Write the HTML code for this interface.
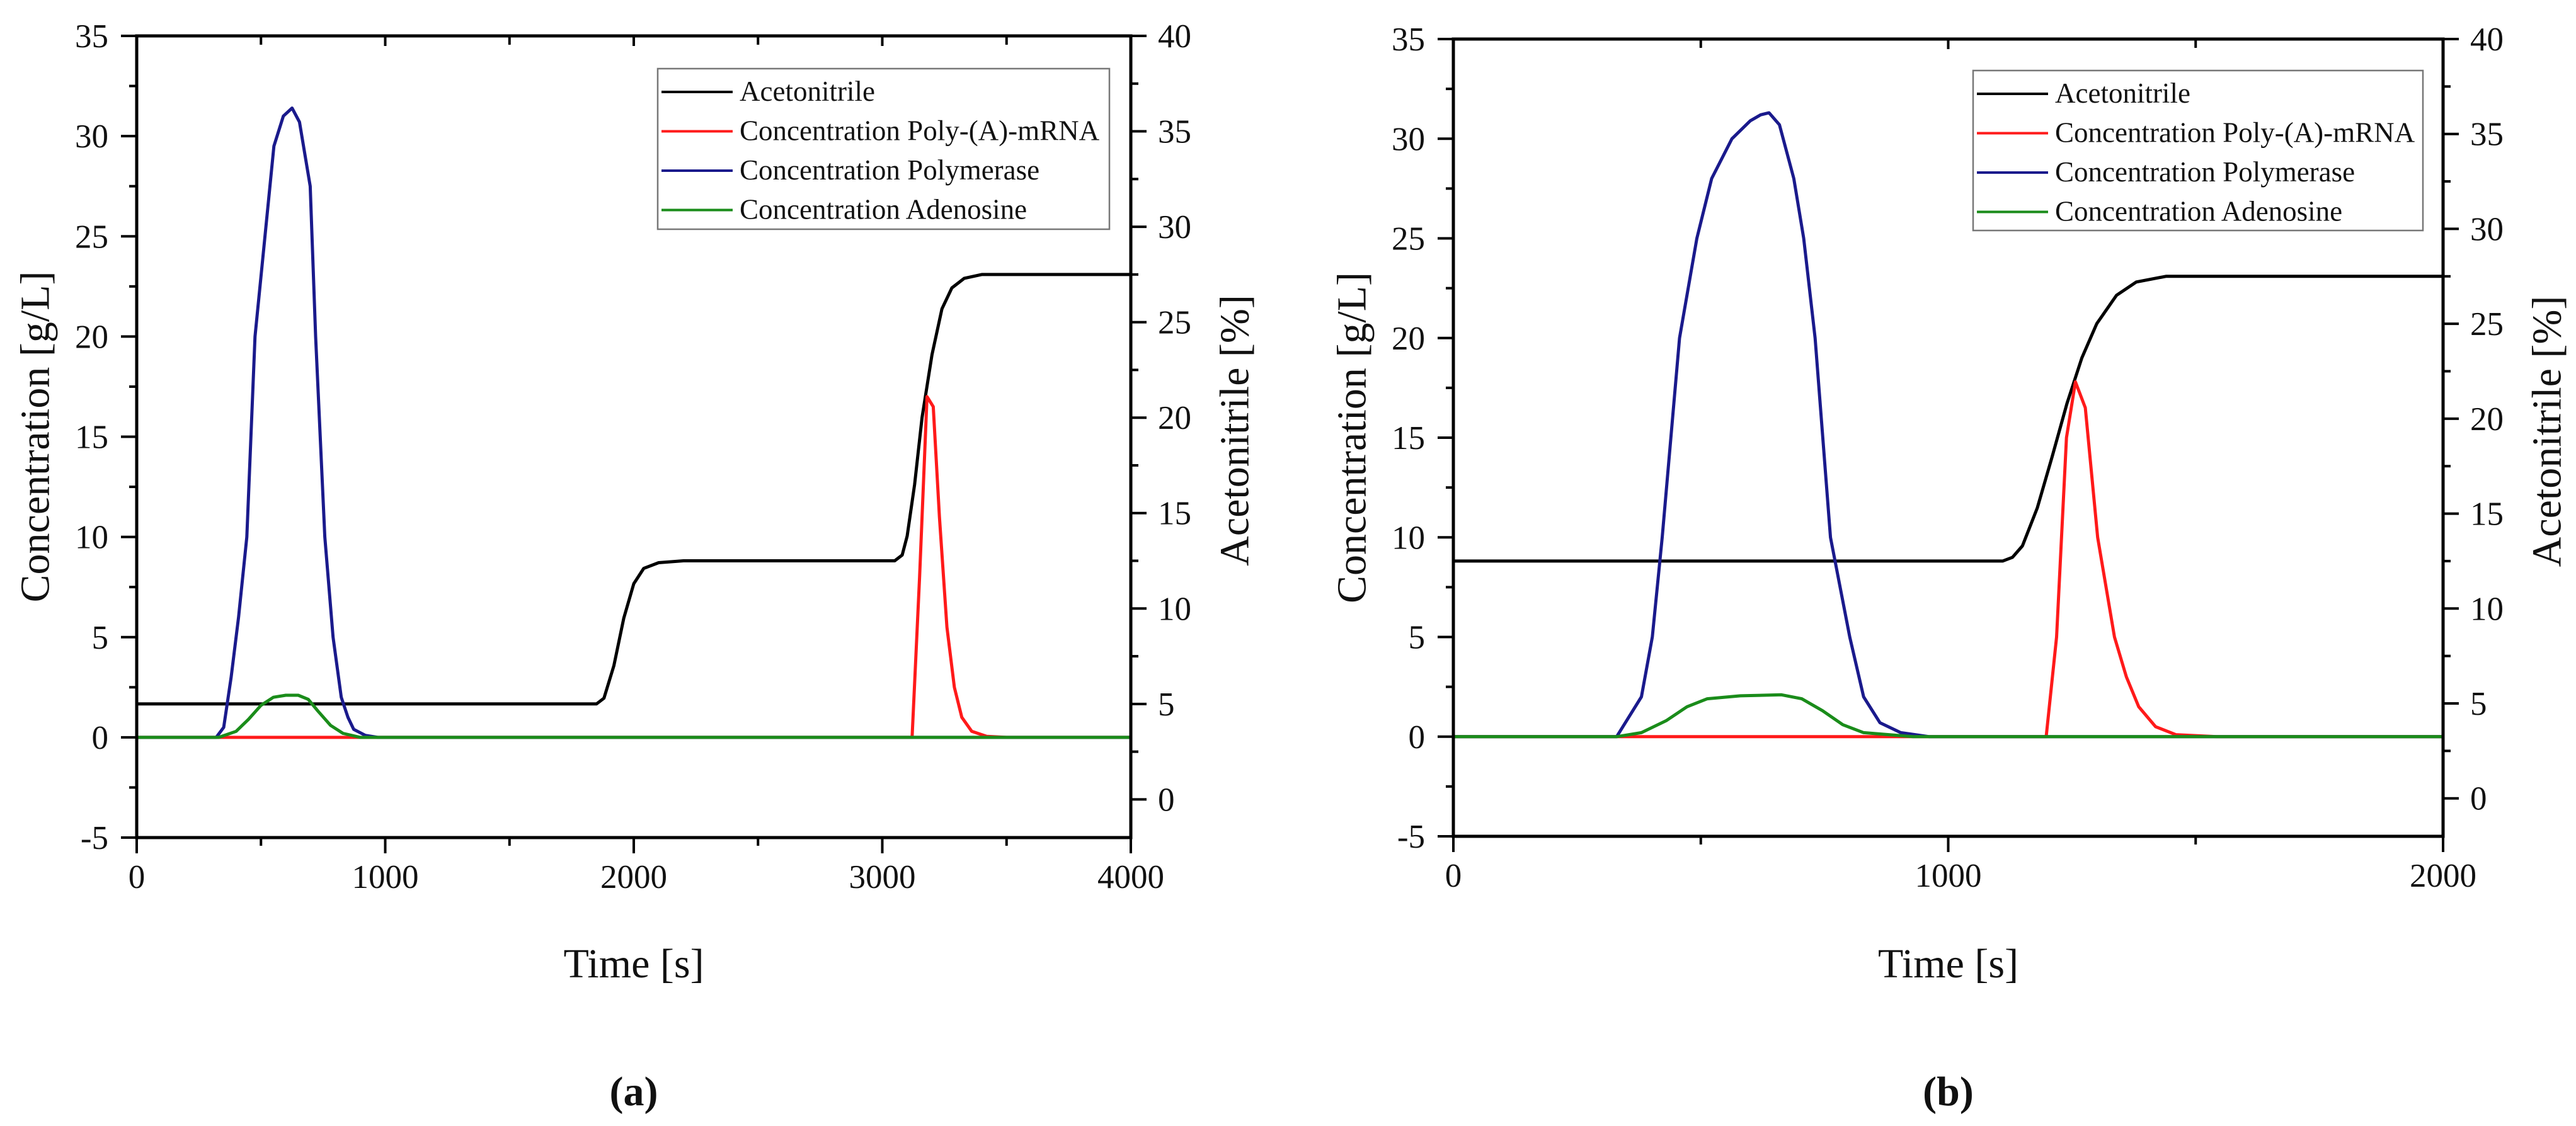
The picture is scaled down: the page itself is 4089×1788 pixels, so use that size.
<!DOCTYPE html>
<html><head><meta charset="utf-8">
<style>
html,body{margin:0;padding:0;background:#fff;}
svg{display:block;}
text{fill:#111;}
.tl{font-family:"Liberation Serif",serif;font-size:53px;}
.tt{font-family:"Liberation Serif",serif;font-size:66px;}
.lg{font-family:"Liberation Serif",serif;font-size:45px;}
</style></head>
<body>
<svg id="chart" width="4089" height="1788" viewBox="0 0 4089 1788" xmlns="http://www.w3.org/2000/svg"></svg>
<script>
// ---------- DATA (panel a) ----------
const aAcetT = [0,1850,1880,1920,1960,2000,2040,2100,2200,3050,3080,3100,3130,3160,3200,3240,3280,3330,3400,4000];
const aAcetV = [5,5,5.3,7,9.5,11.3,12.1,12.4,12.5,12.5,12.8,13.8,16.5,20,23.3,25.7,26.8,27.3,27.5,27.5];
const aPolT = [0,320,350,380,410,443,476,516,552,590,625,655,698,720,757,790,823,850,873,920,970,4000];
const aPolV = [0,0,0.5,3,6,10,20,25,29.5,31,31.4,30.7,27.5,20,10,5,2,1,0.4,0.1,0,0];
const aAdeT = [0,330,400,450,500,550,600,650,690,730,780,830,900,4000];
const aAdeV = [0,0,0.3,0.9,1.6,2.0,2.1,2.1,1.9,1.3,0.6,0.2,0,0];
const aRnaT = [0,3120,3150,3180,3205,3230,3260,3290,3320,3360,3420,3500,4000];
const aRnaV = [0,0,8,17,16.5,11,5.5,2.5,1,0.3,0.05,0,0];
// ---------- DATA (panel b) ----------
const bAcetT = [0,1110,1130,1150,1180,1210,1240,1270,1300,1340,1380,1440,2000];
const bAcetV = [12.5,12.5,12.7,13.3,15.3,18,20.8,23.2,25,26.5,27.2,27.5,27.5];
const bPolT = [0,330,380,402,422,457,492,522,563,600,621,638,659,688,708,731,762,801,829,862,904,962,2000];
const bPolV = [0,0,2,5,10,20,25,28,30,30.9,31.2,31.3,30.7,28,25,20,10,5,2,0.7,0.2,0,0];
const bAdeT = [0,330,380,430,472,513,580,663,704,746,787,829,929,2000];
const bAdeV = [0,0,0.2,0.8,1.5,1.9,2.05,2.1,1.9,1.3,0.6,0.2,0,0];
const bRnaT = [0,1198,1219,1239,1257,1277,1302,1336,1360,1385,1419,1460,1543,2000];
const bRnaV = [0,0,5,15,17.8,16.5,10,5,3,1.5,0.5,0.1,0,0];
// ---------- ticks ----------
const leftTicks = [-5,0,5,10,15,20,25,30,35];
const rightTicks = [0,5,10,15,20,25,30,35,40];
const aXTicks = [0,1000,2000,3000,4000];
const bXTicks = [0,1000,2000];
const legendLabels = ["Acetonitrile","Concentration Poly-(A)-mRNA","Concentration Polymerase","Concentration Adenosine"];
const seriesColors = ["#000000","#ff1a1a","#1a1a8c","#1a8c1a"];

const NS="http://www.w3.org/2000/svg";
const svg=document.getElementById('chart');
function mk(tag,attrs,parent,txt){const e=document.createElementNS(NS,tag);for(const k in attrs)e.setAttribute(k,attrs[k]);if(txt!==undefined)e.textContent=txt;(parent||svg).appendChild(e);return e;}

function panel(cfg){
  const g=mk('g',{});
  
  
  const {L,R,T,B,xMax,xMinor,xTicks}=cfg;
  const xs=v=>L+(v/xMax)*(R-L);
  const yl=v=>B-(v+5)/40*(B-T);
  const yr=v=>B-(v+2)/42*(B-T);
  const cid='clip'+cfg.name;
  const cp=mk('clipPath',{id:cid},g);mk('rect',{x:L,y:T,width:R-L,height:B-T},cp);
  const sg=mk('g',{'clip-path':'url(#'+cid+')'},g);
  const series=[
    {t:cfg.acetT,v:cfg.acetV,ax:yr,c:seriesColors[0],n:'acetonitrile-line'},
    {t:cfg.rnaT,v:cfg.rnaV,ax:yl,c:seriesColors[1],n:'mrna-line'},
    {t:cfg.polT,v:cfg.polV,ax:yl,c:seriesColors[2],n:'polymerase-line'},
    {t:cfg.adeT,v:cfg.adeV,ax:yl,c:seriesColors[3],n:'adenosine-line'}];
  series.forEach(s=>{
    const d=s.t.map((t,i)=>(i?'L':'M')+xs(t).toFixed(1)+','+s.ax(s.v[i]).toFixed(1)).join(' ');
    const p=mk('path',{d:d,fill:'none',stroke:s.c,'stroke-width':5,'stroke-linejoin':'round'},sg);
    
    
  });
  const ax={stroke:'#000','stroke-width':5,fill:'none'};
  mk('path',Object.assign({d:`M${L},${T}L${R},${T}L${R},${B}L${L},${B}Z`},ax),g);
  for(let v=0;v<=xMax;v+=xMinor){
    const x=xs(v);const maj=xTicks.includes(v);
    mk('line',{x1:x,y1:B,x2:x,y2:B+(maj?25:13),stroke:'#000','stroke-width':4},g);
    mk('line',{x1:x,y1:T,x2:x,y2:T+(maj?16:14),stroke:'#000','stroke-width':4},g);
  }
  xTicks.forEach(v=>{const t=mk('text',{x:xs(v),y:B+80,'text-anchor':'middle',class:'tl'},g,String(v));
    });
  for(let v=-5;v<=35;v+=2.5){const y=yl(v);const maj=v%5===0;
    mk('line',{x1:L,y1:y,x2:L-(maj?25:12),y2:y,stroke:'#000','stroke-width':4},g);}
  leftTicks.forEach(v=>{const t=mk('text',{x:L-45,y:yl(v)+18,'text-anchor':'end',class:'tl'},g,String(v));
    });
  for(let v=-2.5;v<=40;v+=2.5){if(v<-2)continue;const y=yr(v);const maj=v%5===0;
    mk('line',{x1:R,y1:y,x2:R+(maj?25:12),y2:y,stroke:'#000','stroke-width':4},g);}
  rightTicks.forEach(v=>{const t=mk('text',{x:R+43,y:yr(v)+18,'text-anchor':'start',class:'tl'},g,String(v));
    });
  const ly=mk('text',{x:cfg.lt,y:(T+B)/2,'text-anchor':'middle','dominant-baseline':'central',class:'tt',transform:`rotate(-90 ${cfg.lt} ${(T+B)/2})`},g,'Concentration [g/L]');
  
  const ry=mk('text',{x:cfg.rt,y:(T+B)/2-10,'text-anchor':'middle','dominant-baseline':'central',class:'tt',transform:`rotate(-90 ${cfg.rt} ${(T+B)/2-10})`},g,'Acetonitrile [%]');
  
  const xt=mk('text',{x:(L+R)/2,y:1552,'text-anchor':'middle',class:'tt'},g,'Time [s]');
  
  const pl=mk('text',{x:(L+R)/2,y:1755,'text-anchor':'middle',class:'tt','font-weight':'bold','font-size':'62px'},g,cfg.label);
  
  const lg=mk('g',{},g);
  
  
  mk('rect',{x:cfg.lgL,y:cfg.lgT,width:cfg.lgR-cfg.lgL,height:cfg.lgB-cfg.lgT,fill:'#fff',stroke:'#777','stroke-width':2.5},lg);
  legendLabels.forEach((s,i)=>{
    const y=cfg.lgT+37+i*62.5;
    const e=mk('g',{},lg);
    
    
    mk('line',{x1:cfg.lgL+6,y1:y,x2:cfg.lgL+119,y2:y,stroke:seriesColors[i],'stroke-width':4},e);
    mk('text',{x:cfg.lgL+130,y:y+14,class:'lg'},e,s);
  });
}
panel({name:'panel-a',L:217,R:1795,T:57,B:1330,xMax:4000,xMinor:500,xTicks:aXTicks,
  acetT:aAcetT,acetV:aAcetV,polT:aPolT,polV:aPolV,adeT:aAdeT,adeV:aAdeV,rnaT:aRnaT,rnaV:aRnaV,
  lt:56,rt:1960,label:'(a)',lgL:1044,lgR:1761,lgT:109,lgB:364});
panel({name:'panel-b',L:2307,R:3878,T:62,B:1328,xMax:2000,xMinor:500,xTicks:bXTicks,
  acetT:bAcetT,acetV:bAcetV,polT:bPolT,polV:bPolV,adeT:bAdeT,adeV:bAdeV,rnaT:bRnaT,rnaV:bRnaV,
  lt:2146,rt:4043,label:'(b)',lgL:3132,lgR:3846,lgT:112,lgB:366});
</script>
</body></html>
